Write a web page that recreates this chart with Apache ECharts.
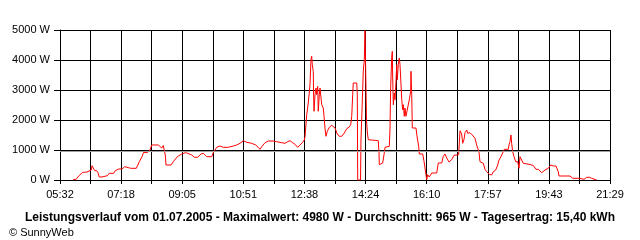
<!DOCTYPE html>
<html>
<head>
<meta charset="utf-8">
<script src="https://cdn.jsdelivr.net/npm/echarts@6/dist/echarts.min.js"></script>
<style>html,body{margin:0;padding:0;background:#fff}#c{width:640px;height:240px}</style>
</head>
<body>
<div id="c"></div>
<script>
// Time of each reading, minutes after midnight
const times = [355,357,360,364.5,371.5,375,379,382,386.5,387.7,390,392.4,395.9,398,400.4,405,407.3,414.3,417.8,425.4,428.2,434.1,439.9,444.6,451.5,455,464.8,470,474.7,477.6,480.4,483.4,488.6,491.6,503,509,511.7,513.5,515.2,516.4,525.1,529.1,536.1,543.8,550.7,554.2,561.2,565.7,571.6,577.3,581.3,584.3,587.3,596,598.7,604.7,610.4,616.1,624.8,627.8,633.5,639.5,645.2,650.9,656.9,665.6,672.5,677,680,683,688.7,694.4,703.1,709,717.8,723.5,728.2,732.2,736.9,742.1,745.6,749.6,753.6,757.1,758.3,761.3,764,767,768.7,769.9,771,772.7,773.2,774,775.7,777.4,778.7,780.4,781.4,783.2,784.4,786.1,787.4,790.1,791.4,793.1,794.8,797.1,800.6,804.8,807.5,810.5,814.5,818,822.2,826.7,830.9,834.9,837.8,839.6,841.3,842.3,848.3,849.3,850,854.9,855.7,857.5,859.7,861.5,862.7,863.9,865.3,866.7,868.4,885.8,887.1,887.6,888.8,893.5,895.8,897.5,905,906.2,907.4,909.2,910.2,910.9,912,913.7,914.9,916.6,917.9,918.9,920.6,922.4,923.6,924.8,926.6,928.3,929.3,931.1,932.3,934,937,939.8,942.2,942.7,944,945,951.4,953.7,956.1,957.2,963.1,965.4,967.1,968.8,970.1,971.8,974.6,978.8,987.5,990.2,996.2,998.9,1001.9,1004.9,1008.9,1013.6,1017.6,1021,1025.7,1026.8,1028,1029.7,1030.9,1032.7,1035,1036.7,1039.7,1041.4,1045.4,1049.4,1054.1,1057,1058.8,1061,1062.8,1068.5,1071.5,1074.5,1079,1083.1,1085.9,1090.1,1093.6,1095.9,1099.3,1103.3,1105.1,1112,1113.3,1115,1116.7,1117.9,1119.7,1122,1124.9,1128.4,1130.7,1132.4,1135.4,1138.1,1149.8,1155.5,1160.2,1164.2,1170.1,1175.9,1181.6,1185.8,1190.3,1195,1199,1200.3,1219.4,1224.1,1235.6,1236.8,1243.8,1248.4,1253,1257.1,1259.9,1265.8];
// Power (W)
const power = [20,80,20,133,257,257,267,323,333,477,423,310,310,243,100,100,133,143,223,223,310,367,367,443,410,390,390,610,777,923,867,910,1000,1167,1167,1067,1150,1150,833,500,500,610,777,867,910,890,833,757,757,867,890,833,777,777,910,1090,1133,1090,1090,1057,1133,1167,1223,1310,1257,1223,1167,1090,1023,1110,1243,1300,1300,1277,1243,1223,1277,1310,1243,1167,1090,1167,1243,1333,1443,2177,2567,3177,4010,4123,3843,3623,2900,2290,2843,3067,2843,3123,2290,2843,3067,3123,2510,2400,2123,1733,1457,1623,1757,1823,1790,1733,1533,1457,1457,1567,1710,1757,1843,2123,2843,3233,3233,2843,0,0,1333,2333,3623,4010,4980,3623,2000,1600,1343,1310,900,510,457,567,843,1090,1123,1733,3123,4090,4290,3400,2510,2900,2677,3290,3843,3343,3843,4067,3843,3400,2677,2343,2510,2123,2400,2123,2123,2677,2957,3623,2843,1733,1733,1400,1123,867,867,623,400,177,10,177,100,233,233,567,567,790,867,733,600,677,823,843,843,1233,1643,1690,1533,1223,1357,1577,1667,1557,1577,1500,1390,1167,1057,943,610,557,357,277,190,167,277,333,500,667,777,943,1023,1023,1167,1277,1500,1223,943,777,610,610,390,777,723,557,517,483,357,357,243,333,390,500,467,467,277,133,133,57,57,23,23,90,90,57,33,0];
const tickLabels = ['05:32','07:18','09:05','10:51','12:38','14:24','16:10','17:57','19:43','21:29'];
const yTicks = [0,1000,2000,3000,4000,5000];
const average = 965;
const titleText = 'Leistungsverlauf vom 01.07.2005 - Maximalwert: 4980 W - Durchschnitt: 965 W - Tagesertrag: 15,40 kWh';
const creditText = '\u00A9 SunnyWeb';

const startMin = 332;            // 05:32
const spanSec = 957 * 60;        // to 21:29
const stepSec = spanSec / 18;    // 3190 s per grid line

const data = times.map((t, i) => [Math.round((t - startMin) * 60), power[i]]);
const FONT = 'Liberation Sans, Arial, sans-serif';

const chart = echarts.init(document.getElementById('c'), null, {renderer: 'canvas'});
chart.setOption({
  animation: false,
  backgroundColor: '#ffffff',
  grid: {left: 60, right: 30, top: 30, bottom: 60, containLabel: false},
  title: [
    {text: titleText, left: 'center', top: 207,
     textStyle: {fontFamily: FONT, fontSize: 12, fontWeight: 'bold', color: '#000'}},
    {text: creditText, left: 4, top: 222,
     textStyle: {fontFamily: FONT, fontSize: 11, fontWeight: 'normal', color: '#000'}}
  ],
  xAxis: {
    type: 'value', min: 0, max: spanSec, interval: stepSec,
    axisLine: {show: true, lineStyle: {color: '#000', width: 1}},
    axisTick: {show: true, length: 4, lineStyle: {color: '#000'}},
    splitLine: {show: true, lineStyle: {color: '#000', width: 1}},
    axisLabel: {
      color: '#000', fontFamily: FONT, fontSize: 11, margin: 9,
      showMinLabel: true, showMaxLabel: true,
      formatter: v => { const i = Math.round(v / stepSec); return i % 2 === 0 ? (tickLabels[i / 2] || '') : ''; }
    }
  },
  yAxis: {
    type: 'value', min: yTicks[0], max: yTicks[yTicks.length - 1], interval: yTicks[1] - yTicks[0],
    axisLine: {show: true, lineStyle: {color: '#000', width: 1}},
    axisTick: {show: true, length: 6, lineStyle: {color: '#000'}},
    splitLine: {show: true, lineStyle: {color: '#000', width: 1}},
    axisLabel: {color: '#000', fontFamily: FONT, fontSize: 11, margin: 10, formatter: v => v + ' W'}
  },
  series: [{
    type: 'line', data: data, showSymbol: false, symbol: 'none',
    lineStyle: {color: '#ff0000', width: 1}, z: 3,
    markLine: {
      silent: true, symbol: 'none', label: {show: false},
      lineStyle: {color: '#a0a0a0', type: 'solid', width: 1},
      data: [{yAxis: average}]
    }
  }]
});
</script>
</body>
</html>
